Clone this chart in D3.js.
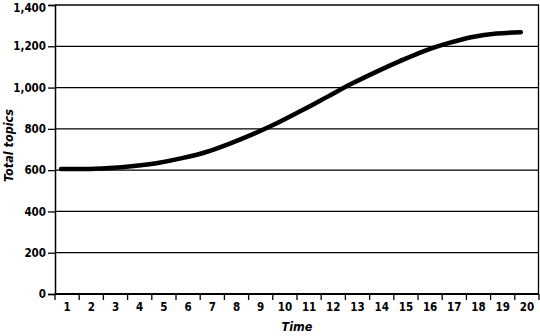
<!DOCTYPE html>
<html>
<head>
<meta charset="utf-8">
<script src="https://cdn.jsdelivr.net/npm/d3@7"></script>
<style>
  body { margin: 0; background: #fff; }
  svg text { font-family: "DejaVu Sans Condensed", "Liberation Sans Narrow", sans-serif; font-weight: bold; fill: #000; }
</style>
</head>
<body>
<svg width="540" height="336"></svg>
<script>
const times = d3.range(1, 21);
const topics = [605, 605, 610, 620, 635, 658, 688, 730, 778, 832,
                892, 955, 1018, 1075, 1128, 1177, 1215, 1245, 1262, 1268];
const yTicks = [0, 200, 400, 600, 800, 1000, 1200, 1400];

const margin = { top: 5, right: 1, bottom: 42, left: 55 },
    width = 540 - margin.left - margin.right,
    height = 336 - margin.top - margin.bottom;

const svg = d3.select("svg")
    .append("g")
    .attr("transform", "translate(" + margin.left + "," + margin.top + ")");

let x = d3.scaleBand().domain(times).range([0, width]);
let y = d3.scaleLinear().domain([0, 1400]).range([height, 0]);

// gridlines
svg.selectAll(".grid")
    .data(yTicks.slice(1))
    .enter()
    .append("line")
    .attr("x1", 0).attr("x2", width)
    .attr("y1", d => y(d)).attr("y2", d => y(d))
    .attr("stroke", "#000")
    .attr("stroke-width", 1.3);

// right border
svg.append("line")
    .attr("x1", width - 0.5).attr("x2", width - 0.5)
    .attr("y1", 0).attr("y2", height)
    .attr("stroke", "#000").attr("stroke-width", 1.3);

// y axis
const yAxis = svg.append("g")
    .call(d3.axisLeft(y).tickValues(yTicks).tickFormat(d3.format(",")).tickSize(7).tickPadding(2));
yAxis.select(".domain").attr("stroke-width", 1.5);
yAxis.selectAll("line").attr("stroke-width", 1.3);
yAxis.selectAll("text").style("font-size", "11.5px")
    .attr("dy", d => d === 1400 ? "0.55em" : "0.32em"); // keep top label inside

// x axis: ticks at category boundaries
const xAxis = svg.append("g")
    .attr("transform", "translate(0," + height + ")");
xAxis.append("line")
    .attr("x1", 0).attr("x2", width)
    .attr("stroke", "#000").attr("stroke-width", 2);
xAxis.selectAll(".tk")
    .data(d3.range(0, times.length + 1))
    .enter()
    .append("line")
    .attr("x1", i => i * x.bandwidth()).attr("x2", i => i * x.bandwidth())
    .attr("y1", 0).attr("y2", 6)
    .attr("stroke", "#000").attr("stroke-width", 1.3);
xAxis.selectAll(".lbl")
    .data(times)
    .enter()
    .append("text")
    .attr("x", d => x(d) + x.bandwidth() / 2)
    .attr("y", 17)
    .attr("text-anchor", "middle")
    .style("font-size", "11.5px")
    .text(d => d);

// line
const line = d3.line()
    .x((d, i) => x(times[i]) + x.bandwidth() * 0.25)
    .y(d => y(d))
    .curve(d3.curveMonotoneX);

svg.append("path")
    .datum(topics)
    .attr("fill", "none")
    .attr("stroke", "#000")
    .attr("stroke-width", 4.5)
    .attr("stroke-linecap", "round")
    .attr("d", line);

// labels
svg.append("text")
    .attr("text-anchor", "middle")
    .attr("x", width / 2)
    .attr("y", height + 37)
    .style("font-size", "12.5px")
    .style("font-style", "italic")
    .text("Time");

svg.append("text")
    .attr("text-anchor", "middle")
    .attr("transform", "translate(" + (-42) + "," + (height / 2 - 4) + ") rotate(-90)")
    .style("font-size", "12.5px")
    .style("font-style", "italic")
    .text("Total topics");
</script>
</body>
</html>
